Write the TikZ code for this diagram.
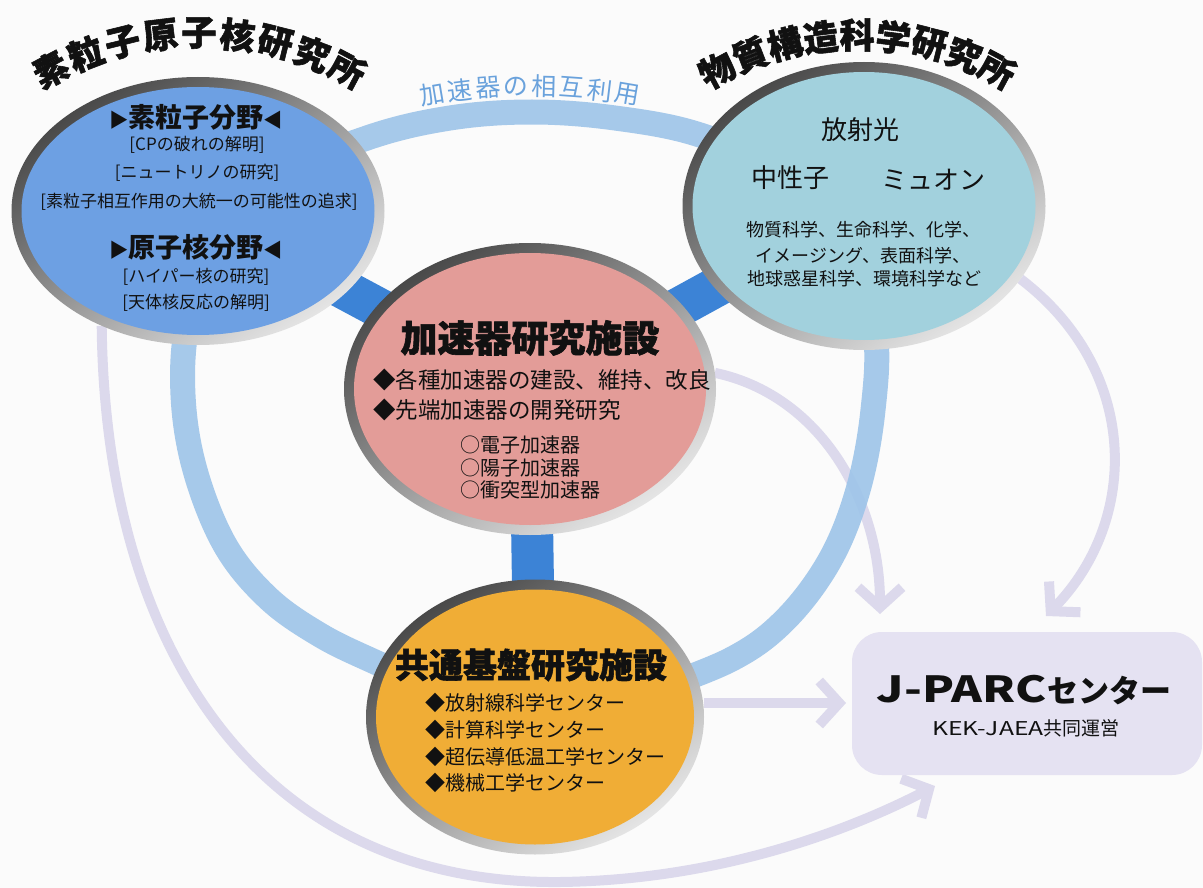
\documentclass[tikz,border=0pt]{standalone}
\usepackage{fontspec}
\usepackage{graphicx}
\setmainfont{Noto Sans CJK JP}
\newfontfamily\jp{Noto Sans CJK JP}
\newfontfamily\jph{Noto Sans CJK JP}[BoldFeatures={FakeBold=1.6}]
\usetikzlibrary{shapes.geometric,arrows.meta,calc}
\definecolor{bgc}{HTML}{FBFBFB}
\definecolor{lblue}{HTML}{6DA0E3}
\definecolor{tealc}{HTML}{A2D1DD}
\definecolor{pinkc}{HTML}{E39C98}
\definecolor{orangec}{HTML}{F0AD36}
\definecolor{jfill}{HTML}{E5E2F2}
\definecolor{ringc}{HTML}{9FC5E9}
\definecolor{linkc}{HTML}{3C83D6}
\definecolor{arrowc}{HTML}{DCD9EC}
\definecolor{labc}{HTML}{6AA2DC}
\definecolor{rimA}{HTML}{484848}
\definecolor{rimM}{HTML}{8A8A8A}
\definecolor{rimB}{HTML}{E6E6E6}
\definecolor{ink}{HTML}{111111}
\pgfdeclarelayer{back}
\pgfdeclarelayer{mid}
\pgfsetlayers{back,mid,main}
\newcommand\rtri{\scalebox{0.72}{▶}}
\newcommand\ltri{\scalebox{0.72}{◀}}
\tikzset{
  bubble/.style n args={3}{ellipse, inner sep=0pt, outer sep=0pt,
    minimum width=#1pt, minimum height=#2pt,
    top color=rimA, middle color=rimM, bottom color=rimB, shading angle=35,
    path picture={\fill[#3] (path picture bounding box.center) ellipse ({#1/2-10} and {#2/2-10});}},
  jbox/.style={rectangle, rounded corners=30pt, fill=jfill, minimum width=350pt, minimum height=143pt, inner sep=0pt},
  txt/.style={inner sep=0pt, text=ink},
  ttl/.style={txt, font=\jph\bfseries\fontsize{35}{35}\selectfont},
  lab/.style={inner sep=0pt, text=labc, font=\jp\fontsize{25}{25}\selectfont},
  hd/.style={txt, font=\jp\bfseries\fontsize{27}{27}\selectfont},
  bl/.style={txt, font=\jp\fontsize{17}{17}\selectfont},
  big/.style={txt, font=\jp\fontsize{26}{26}\selectfont},
  rb/.style={txt, font=\jp\fontsize{18}{18}\selectfont},
  ctitle/.style={txt, font=\jph\bfseries\fontsize{37}{37}\selectfont},
  cb/.style={txt, anchor=west, font=\jp\fontsize{22.5}{22.5}\selectfont},
  cs/.style={txt, anchor=west, font=\jp\fontsize{20}{20}\selectfont},
  bt/.style={txt, font=\jph\bfseries\fontsize{34}{34}\selectfont},
  bb/.style={txt, anchor=west, font=\jp\fontsize{20}{20}\selectfont},
  ring/.style={draw=ringc, line width=25pt, opacity=0.92},
  link/.style={draw=linkc, line width=40pt},
  flow/.style={draw=arrowc, line width=10pt, -{Straight Barb[length=20pt,width=44pt]}},
}
\begin{document}
\begin{tikzpicture}[x=1pt,y=-1pt]
\useasboundingbox (0,0) rectangle (1203,888);
\begin{pgfonlayer}{back}
  \fill[bgc] (0,0) rectangle (1203,888);
\end{pgfonlayer}

% main bubbles
\node[bubble={373}{268}{lblue}] (L) at (198,211) {};
\node[bubble={363}{288}{tealc}] (R) at (864,206) {};
\node[bubble={372}{292}{pinkc}] (C) at (530,389) {};
\node[bubble={338}{275}{orangec}] (B) at (535,717) {};
\node[jbox] (J) at (1027,703.5) {};

% arrow end points
\coordinate (a1) at (935,786);
\coordinate (a2) at (880,614);
\coordinate (a3) at (1046,616);
\coordinate (a4) at (846,703);

\begin{pgfonlayer}{mid}
  % lavender flows to J-PARC
  \draw[flow] (L.230) .. controls (105,650) and (260,885) .. (560,882) .. controls (720,880) and (850,830) .. (a1);
  \draw[flow] (C.5) .. controls (820,395) and (880,500) .. (a2);
  \draw[flow] (R.-25) .. controls (1140,370) and (1140,520) .. (a3);
  \draw[flow] (B.east |- a4) -- (a4);
  % ring of mutual use
  \draw[ring] plot[smooth, tension=0.6] coordinates {(440,690) (375,662) (320,635) (268,598) (225,545) (195,470) (183,395) (188,320) (215,240) (270,180) (367,138) (450,118) (532,112) (615,118) (700,135) (790,175) (850,250) (875,330) (873,410) (858,490) (830,560) (785,620) (730,660) (640,695)};
  % direct links
  \draw[link] (L.center) -- (C.center);
  \draw[link] (R.center) -- (C.center);
  \draw[link, line width=42pt] (C.center) -- (B.center);
\end{pgfonlayer}

% curved titles
\foreach \ch [count=\i from 0] in {素,粒,子,原,子,核,研,究,所}{
  \pgfmathsetmacro\ang{-27.8+6.95*\i}
  \pgfmathsetmacro\rot{0-(\ang)}
  \node[ttl, rotate=\rot] (lt\i) at ({199+318*sin(\ang)},{351-318*cos(\ang)}) {\ch};
}
\foreach \ch [count=\i from 0] in {物,質,構,造,科,学,研,究,所}{
  \pgfmathsetmacro\ang{-28.1+7.03*\i}
  \pgfmathsetmacro\rot{0-(\ang)}
  \node[ttl, rotate=\rot] (rt\i) at ({857+297*sin(\ang)},{332-297*cos(\ang)}) {\ch};
}
\foreach \ch [count=\i from 0] in {加,速,器,の,相,互,利,用}{
  \pgfmathsetmacro\ang{-9.66+2.76*\i}
  \pgfmathsetmacro\rot{0-(\ang)}
  \node[lab, rotate=\rot] (mt\i) at ({530+581*sin(\ang)},{667-581*cos(\ang)}) {\ch};
}

% left bubble text
\node[hd] (lh1) at (196,117) {\rtri 素粒子分野\ltri};
\node[bl] (lb1) at (197,145) {[CPの破れの解明]};
\node[bl] (lb2) at (197,173) {[ニュートリノの研究]};
\node[bl] (lb3) at (199,202) {[素粒子相互作用の大統一の可能性の追求]};
\node[hd] (lh2) at (196,247) {\rtri 原子核分野\ltri};
\node[bl] (lb4) at (196,277) {[ハイパー核の研究]};
\node[bl] (lb5) at (196,303) {[天体核反応の解明]};

% right bubble text
\node[big] (r1) at (860,130) {放射光};
\node[big] (r2) at (790,178) {中性子};
\node[big] (r3) at (933,180) {ミュオン};
\node[rb] (r4) at (863,230) {物質科学、生命科学、化学、};
\node[rb] (r5) at (863,256) {イメージング、表面科学、};
\node[rb] (r6) at (864,279) {地球惑星科学、環境科学など};

% centre bubble text
\node[ctitle] (c0) at (530,338) {加速器研究施設};
\node[cb] (c1) at (373,380) {◆各種加速器の建設、維持、改良};
\node[cb] (c2) at (373,410) {◆先端加速器の開発研究};
\node[cs] (c3) at (460,445) {○電子加速器};
\node[cs] (c4) at (460,468) {○陽子加速器};
\node[cs] (c5) at (460,490) {○衝突型加速器};

% bottom bubble text
\node[bt] (b0) at (531,665) {共通基盤研究施設};
\node[bb] (b1) at (425,703) {◆放射線科学センター};
\node[bb] (b2) at (425,730) {◆計算科学センター};
\node[bb] (b3) at (425,757) {◆超伝導低温工学センター};
\node[bb] (b4) at (425,783) {◆機械工学センター};

% J-PARC box text
\node[txt, font=\jp\bfseries] (j1) at (1024,690) {{\fontsize{36}{36}\selectfont\scalebox{1.3}[1]{J-PARC}}{\fontsize{31}{31}\selectfont センター}};
\node[txt, font=\jp] (j2) at (1026,728) {{\fontsize{19}{19}\selectfont\scalebox{1.3}[1]{KEK-JAEA}共同運営}};
\end{tikzpicture}
\end{document}
